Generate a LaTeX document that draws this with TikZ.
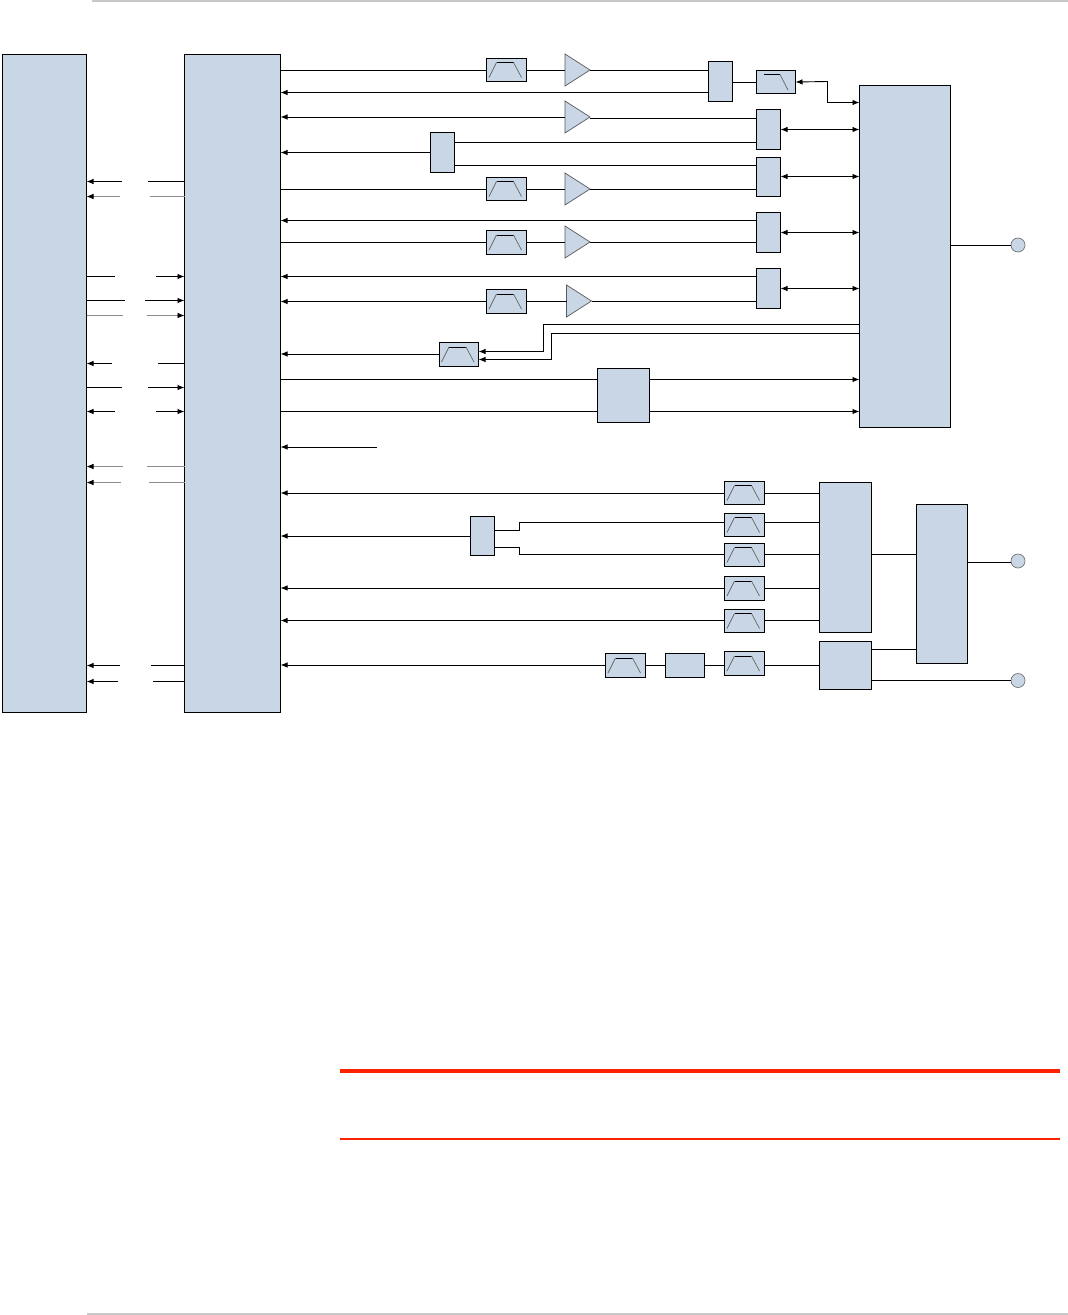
\documentclass[tikz,border=0pt]{standalone}
\usetikzlibrary{arrows.meta}
\definecolor{blk}{HTML}{C9D6E6}
\definecolor{redrule}{HTML}{FF2200}
\definecolor{pagerule}{HTML}{C8C8C8}
\tikzset{
  x=1pt,y=-1pt,
  wire/.style={line width=0.9pt,black},
  thinwire/.style={line width=0.7pt,black!45},
  tip/.tip={Latex[length=7pt,width=5.5pt,color=black]},
  toend/.style={-{tip}},
  tostart/.style={{tip}-},
  twoway/.style={{tip}-{tip}},
  blockbox/.style={draw=black,line width=0.9pt,fill=blk,inner sep=0pt,outer sep=0pt},
  ampbox/.style={inner sep=0pt,outer sep=0pt},
  ampshape/.style={draw=black!65,line width=0.7pt,fill=blk},
  roll/.style={line width=0.7pt,black!60},
  rolltop/.style={line width=0.9pt,black},
  port/.style={circle,draw=black!55,line width=0.7pt,fill=blk,minimum size=14pt,inner sep=0pt,outer sep=0pt},
}
% \blk{name}{x1}{y1}{x2}{y2}
\newcommand{\blk}[5]{%
  \pgfmathsetmacro{\bw}{#4-#2}\pgfmathsetmacro{\bh}{#5-#3}%
  \pgfmathsetmacro{\bx}{(#2+#4)/2}\pgfmathsetmacro{\by}{(#3+#5)/2}%
  \node[blockbox,minimum width=\bw pt,minimum height=\bh pt] (#1) at (\bx,\by) {};}
\newcommand{\bpf}[5]{%
  \blk{#1}{#2}{#3}{#4}{#5}%
  \draw[roll] ([shift={(-17.5,7.5)}]#1.center) -- ([shift={(-10,-7.5)}]#1.center);
  \draw[rolltop] ([shift={(-10,-7.5)}]#1.center) -- ([shift={(7,-7.5)}]#1.center);
  \draw[roll] ([shift={(7,-7.5)}]#1.center) -- ([shift={(15,7.5)}]#1.center);}
\newcommand{\amp}[5]{%
  \pgfmathsetmacro{\bw}{#4-#2}\pgfmathsetmacro{\bh}{#5-#3}%
  \pgfmathsetmacro{\bx}{(#2+#4)/2}\pgfmathsetmacro{\by}{(#3+#5)/2}%
  \node[ampbox,minimum width=\bw pt,minimum height=\bh pt] (#1) at (\bx,\by) {};
  \path[ampshape] (#1.north west) -- (#1.south west) -- (#1.east) -- cycle;}
% left-side broken links: \stubs{y}{x of left gap edge}{x of right gap edge}{style left}{style right}
\newcounter{stubno}
\newcommand{\stubs}[5]{%
  \stepcounter{stubno}%
  \coordinate (gl\thestubno) at (#2,#1);
  \coordinate (gr\thestubno) at (#3,#1);
  \draw[#4] (A.east |- gl\thestubno) -- (gl\thestubno);
  \draw[#5] (gr\thestubno) -- (B.west |- gr\thestubno);}
\begin{document}
\begin{tikzpicture}
\useasboundingbox (0,0) rectangle (1068,1315);
\fill[white] (0,0) rectangle (1068,1315);
\coordinate (topa) at (92,1); \coordinate (topb) at (1068,1);
\draw[pagerule,line width=2pt] (topa) -- (topb);
\coordinate (bota) at (87,1314); \coordinate (botb) at (1068,1314);
\draw[pagerule,line width=1.5pt] (bota) -- (botb);
\coordinate (r1a) at (340,1070.5); \coordinate (r1b) at (1060,1070.5);
\draw[redrule,line width=4pt] (r1a) -- (r1b);
\coordinate (r2a) at (340,1138.5); \coordinate (r2b) at (1060,1138.5);
\draw[redrule,line width=2pt] (r2a) -- (r2b);

\blk{A}{2.5}{54.5}{86.5}{712.5}
\blk{B}{184.5}{54.5}{280.5}{712.5}
\blk{C}{859.5}{85.5}{950.5}{427.5}
\blk{D}{819.5}{482.5}{871.5}{632.5}
\blk{E}{819.5}{641.5}{871.5}{689.5}
\blk{F}{916.5}{504.5}{967.5}{663.5}
\blk{M}{597.5}{368.5}{649.5}{422.5}
\blk{mix}{665.5}{653.5}{704.5}{677.5}

\blk{s1}{708.5}{61.5}{732.5}{101.5}
\blk{s2}{756.5}{109.5}{780.5}{149.5}
\blk{s3}{756.5}{157.5}{780.5}{196.5}
\blk{s4}{756.5}{212.5}{780.5}{252.5}
\blk{s5}{756.5}{268.5}{780.5}{308.5}
\blk{s0}{430.5}{132.5}{454.5}{172.5}
\blk{s6}{470.5}{516.5}{494.5}{555.5}

\blk{lp}{756.5}{70.5}{795.5}{93.5}
\draw[rolltop] ([shift={(-12.5,-7.5)}]lp.center) -- ([shift={(4,-7.5)}]lp.center);
\draw[roll] ([shift={(4,-7.5)}]lp.center) -- ([shift={(12,8)}]lp.center);

\bpf{f1}{486.5}{58.5}{526.5}{81.5}
\bpf{f2}{486.5}{177.5}{526.5}{200.5}
\bpf{f3}{486.5}{230.5}{526.5}{254.5}
\bpf{f4}{486.5}{289.5}{526.5}{313.5}
\bpf{f5}{439.5}{342.5}{478.5}{366.5}
\bpf{g1}{724.5}{481.5}{764.5}{504.5}
\bpf{g2}{724.5}{513.5}{764.5}{536.5}
\bpf{g3}{724.5}{543.5}{764.5}{566.5}
\bpf{g4}{724.5}{576.5}{764.5}{600.5}
\bpf{g5}{724.5}{609.5}{764.5}{632.5}
\bpf{g6}{724.5}{651.5}{764.5}{675.5}
\bpf{g7}{605.5}{653.5}{645.5}{677.5}

\amp{a1}{565}{54}{590}{86}
\amp{a2}{565}{101}{590}{133}
\amp{a3}{565}{173}{590}{205}
\amp{a4}{565}{226}{590}{258}
\amp{a5}{566.5}{285}{591.5}{317}

\node[port] (p1) at (1018,245) {};
\node[port] (p2) at (1018,561) {};
\node[port] (p3) at (1018,680.5) {};

% upper right chain
\draw[wire] (B.east |- 0,70.5) -- (f1.west |- 0,70.5);
\draw[wire] (f1.east |- 0,70.5) -- (a1.west |- 0,70.5);
\draw[wire] (a1.east |- 0,70.5) -- (s1.west |- 0,70.5);
\draw[wire,toend] (s1.west |- 0,92.5) -- (B.east |- 0,92.5);
\draw[wire] (s1.east |- lp.west) -- (lp.west);
\coordinate (lpbend) at (827.5,81.5);
\draw[wire,twoway] (lp.east) -- (lpbend) |- (C.west |- 0,102.5);

\draw[wire,toend] (a2.west |- 0,117) -- (B.east |- 0,117);
\draw[wire] (a2.east |- 0,118) -- (s2.west |- 0,118);
\draw[wire,twoway] (s2.east |- 0,129.5) -- (C.west |- 0,129.5);

\draw[wire,toend] (s0.west) -- (B.east |- s0.west);
\draw[wire] (s0.east |- 0,142.5) -- (s2.west |- 0,142.5);
\draw[wire] (s0.east |- 0,165.5) -- (s3.west |- 0,165.5);

\draw[wire] (B.east |- 0,189.5) -- (f2.west |- 0,189.5);
\draw[wire] (f2.east |- 0,189.5) -- (a3.west |- 0,189.5);
\draw[wire] (a3.east |- 0,189.5) -- (s3.west |- 0,189.5);
\draw[wire,twoway] (s3.east |- 0,176.5) -- (C.west |- 0,176.5);

\draw[wire,toend] (s4.west |- 0,220.5) -- (B.east |- 0,220.5);
\draw[wire] (B.east |- 0,242.5) -- (f3.west |- 0,242.5);
\draw[wire] (f3.east |- 0,242.5) -- (a4.west |- 0,242.5);
\draw[wire] (a4.east |- 0,242.5) -- (s4.west |- 0,242.5);
\draw[wire,twoway] (s4.east |- 0,232.5) -- (C.west |- 0,232.5);

\draw[wire,toend] (s5.west |- 0,276.5) -- (B.east |- 0,276.5);
\draw[wire,tostart] (B.east |- 0,301.5) -- (f4.west |- 0,301.5);
\draw[wire] (f4.east |- 0,301.5) -- (a5.west |- 0,301.5);
\draw[wire] (a5.east |- 0,301.5) -- (s5.west |- 0,301.5);
\draw[wire,twoway] (s5.east |- 0,288.5) -- (C.west |- 0,288.5);

\coordinate (c1) at (543.5,351.5);
\coordinate (c2) at (551.5,359.5);
\draw[wire,toend] (C.west |- 0,324.5) -| (c1) -- (f5.east |- c1);
\draw[wire,toend] (C.west |- 0,333.5) -| (c2) -- (f5.east |- c2);
\draw[wire,toend] (f5.west |- 0,354) -- (B.east |- 0,354);

\draw[wire] (B.east |- 0,379.5) -- (M.west |- 0,379.5);
\draw[wire] (B.east |- 0,411.5) -- (M.west |- 0,411.5);
\draw[wire,toend] (M.east |- 0,379.5) -- (C.west |- 0,379.5);
\draw[wire,toend] (M.east |- 0,411.5) -- (C.west |- 0,411.5);
\coordinate (freeend) at (377,447);
\draw[wire,toend] (freeend) -- (B.east |- freeend);
\draw[wire] (C.east |- p1) -- (p1);

% lower right chain
\draw[wire,toend] (g1.west |- 0,493) -- (B.east |- 0,493);
\draw[wire] (g1.east |- 0,493) -- (D.west |- 0,493);
\draw[wire,toend] (s6.west |- 0,536) -- (B.east |- 0,536);
\coordinate (j1) at (519,530.5);
\coordinate (j2) at (519,547.5);
\draw[wire] (s6.east |- j1) -- (j1) |- (g2.west |- 0,522.5);
\draw[wire] (s6.east |- j2) -- (j2) |- (g3.west |- 0,554);
\draw[wire] (g2.east |- 0,522.5) -- (D.west |- 0,522.5);
\draw[wire] (g3.east |- 0,554) -- (D.west |- 0,554);
\draw[wire,toend] (g4.west |- 0,588) -- (B.east |- 0,588);
\draw[wire] (g4.east |- 0,588) -- (D.west |- 0,588);
\draw[wire,toend] (g5.west |- 0,620.5) -- (B.east |- 0,620.5);
\draw[wire] (g5.east |- 0,620.5) -- (D.west |- 0,620.5);
\draw[wire,toend] (g7.west |- 0,665) -- (B.east |- 0,665);
\draw[wire] (g7.east |- 0,665) -- (mix.west |- 0,665);
\draw[wire] (mix.east |- 0,665) -- (g6.west |- 0,665);
\draw[wire] (g6.east |- 0,665) -- (E.west |- 0,665);
\draw[wire] (D.east |- 0,554) -- (F.west |- 0,554);
\draw[wire] (E.east |- 0,649.5) -- (F.west |- 0,649.5);
\draw[wire] (F.east |- 0,562.5) -- (p2.west |- 0,562.5);
\draw[wire] (E.east |- p3) -- (p3);

% broken links between A and B
\stubs{181.5}{122}{148}{wire,tostart}{wire}
\stubs{196.5}{120}{150}{thinwire,tostart}{thinwire}
\stubs{276.5}{115}{156}{wire}{wire,toend}
\stubs{300.5}{125}{145}{wire}{wire,toend}
\stubs{315.5}{123}{147}{thinwire}{thinwire,toend}
\stubs{363.5}{112}{158}{wire,tostart}{wire}
\stubs{387.5}{122}{148}{wire}{wire,toend}
\stubs{411.5}{115}{156}{wire,tostart}{wire,toend}
\stubs{466.5}{123}{147}{thinwire,tostart}{thinwire}
\stubs{482.5}{121}{149}{thinwire,tostart}{thinwire}
\stubs{665.5}{120}{151}{wire,tostart}{wire}
\stubs{681.5}{118}{153}{wire,tostart}{wire}
\end{tikzpicture}
\end{document}
